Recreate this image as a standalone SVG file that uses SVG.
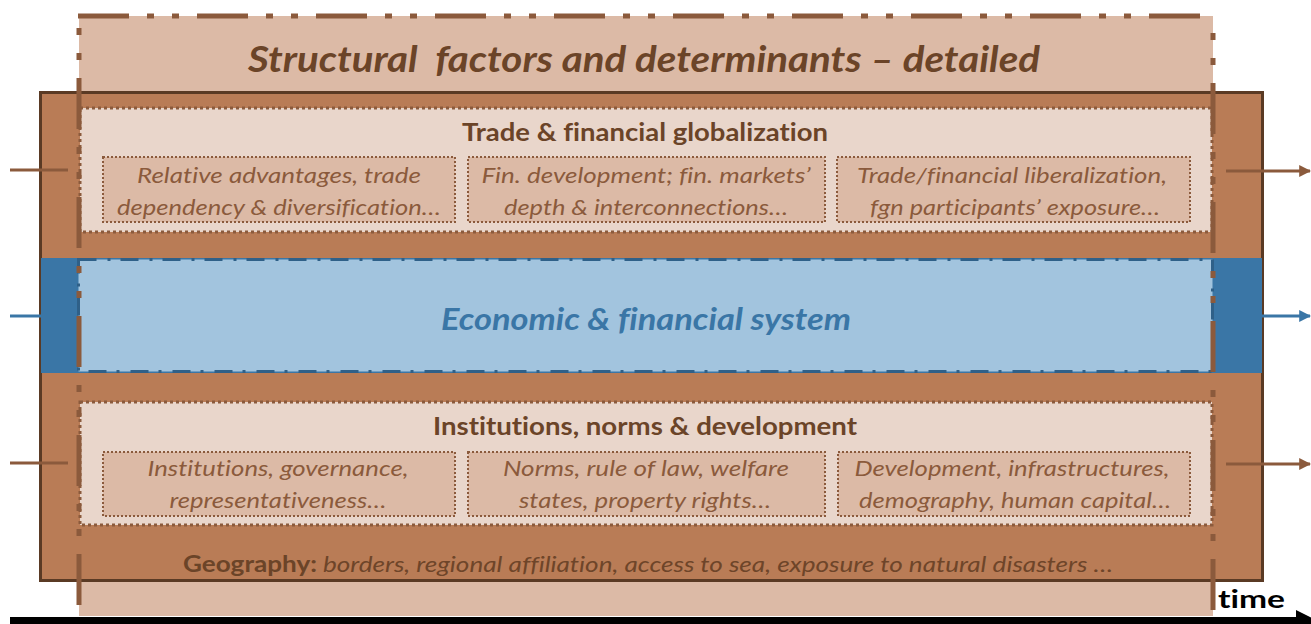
<svg xmlns="http://www.w3.org/2000/svg" width="1311" height="624" viewBox="0 0 1311 624">
<style>
  text { font-family: Lato, "Open Sans", "Liberation Sans", sans-serif; font-variant-ligatures: none; }
  .h { font-weight: bold; fill: #6B4428; text-anchor: middle; }
  .s { font-style: italic; fill: #8B5A3C; text-anchor: middle; font-size: 22px; }
  .panel { fill: #E9D6CB; stroke: #8B5A3C; stroke-width: 3; stroke-dasharray: 3 3; }
  .sub { fill: #DCBAA6; stroke: #8B5A3C; stroke-width: 2; stroke-dasharray: 2 2; }
  .dd { stroke: #8B5A3C; stroke-width: 5; fill: none; stroke-dasharray: 51 18 7 18 7 18; }
  .arr { stroke: #8B5A3C; stroke-width: 3; fill: none; }
</style>
<defs>
  <marker id="ab" viewBox="0 0 10 10" refX="9" refY="5" markerWidth="4" markerHeight="4" orient="auto" markerUnits="strokeWidth">
    <path d="M0,0 L10,5 L0,10 z" fill="#8B5A3C"/>
  </marker>
  <marker id="ablue" viewBox="0 0 10 10" refX="9" refY="5" markerWidth="4" markerHeight="4" orient="auto" markerUnits="strokeWidth">
    <path d="M0,0 L10,5 L0,10 z" fill="#3A76A6"/>
  </marker>
</defs>

<g id="header">
  <rect x="79" y="16" width="1134" height="600" fill="#DCBAA6"/>
</g>

<g id="main-box">
  <rect x="40.5" y="92.5" width="1222" height="488" fill="#B97C56" stroke="#5A3A24" stroke-width="3"/>
</g>

<g id="trade-panel">
  <rect class="panel" x="80" y="108" width="1132" height="124"/>
  <text class="h" x="645" y="141" font-size="24" textLength="366" lengthAdjust="spacingAndGlyphs">Trade &amp; financial globalization</text>
  <g id="trade-1">
    <rect class="sub" x="103" y="157" width="352" height="65"/>
    <text class="s" x="279" y="183" textLength="284" lengthAdjust="spacingAndGlyphs">Relative advantages, trade</text>
    <text class="s" x="279" y="215" textLength="324" lengthAdjust="spacingAndGlyphs">dependency &amp; diversification…</text>
  </g>
  <g id="trade-2">
    <rect class="sub" x="468" y="157" width="357" height="65"/>
    <text class="s" x="646" y="183" textLength="329" lengthAdjust="spacingAndGlyphs">Fin. development; fin. markets’</text>
    <text class="s" x="646" y="215" textLength="284" lengthAdjust="spacingAndGlyphs">depth &amp; interconnections…</text>
  </g>
  <g id="trade-3">
    <rect class="sub" x="837" y="157" width="353" height="65"/>
    <text class="s" x="1012" y="183" textLength="310" lengthAdjust="spacingAndGlyphs">Trade/financial liberalization,</text>
    <text class="s" x="1015" y="215" textLength="290" lengthAdjust="spacingAndGlyphs">fgn participants’ exposure…</text>
  </g>
</g>

<g id="economic-system">
  <rect x="41" y="258" width="1221" height="115" fill="#3A76A6"/>
  <rect x="78.5" y="259.5" width="1134" height="112" fill="#A2C4DE" stroke="#2F6088" stroke-width="3" stroke-dasharray="18 11 3 10"/>
  <text x="646" y="330" font-size="31" font-weight="bold" font-style="italic" fill="#3A76A6" text-anchor="middle" textLength="410" lengthAdjust="spacingAndGlyphs">Economic &amp; financial system</text>
</g>

<g id="institutions-panel">
  <rect class="panel" x="80" y="402" width="1132" height="123"/>
  <text class="h" x="645" y="435" font-size="24" textLength="424" lengthAdjust="spacingAndGlyphs">Institutions, norms &amp; development</text>
  <g id="inst-1">
    <rect class="sub" x="103" y="452" width="352" height="64"/>
    <text class="s" x="278" y="476" textLength="261" lengthAdjust="spacingAndGlyphs">Institutions, governance,</text>
    <text class="s" x="278" y="508" textLength="217" lengthAdjust="spacingAndGlyphs">representativeness…</text>
  </g>
  <g id="inst-2">
    <rect class="sub" x="468" y="452" width="357" height="64"/>
    <text class="s" x="646" y="476" textLength="286" lengthAdjust="spacingAndGlyphs">Norms, rule of law, welfare</text>
    <text class="s" x="645" y="508" textLength="252" lengthAdjust="spacingAndGlyphs">states, property rights…</text>
  </g>
  <g id="inst-3">
    <rect class="sub" x="838" y="452" width="352" height="64"/>
    <text class="s" x="1012" y="476" textLength="315" lengthAdjust="spacingAndGlyphs">Development, infrastructures,</text>
    <text class="s" x="1015" y="508" textLength="312" lengthAdjust="spacingAndGlyphs">demography, human capital…</text>
  </g>
</g>

<g id="geography">
  <text x="183" y="572" font-size="22" fill="#6B4428" textLength="930" lengthAdjust="spacingAndGlyphs"><tspan font-weight="bold">Geography:</tspan><tspan font-style="italic" fill="#6E4529"> borders, regional affiliation, access to sea, exposure to natural disasters …</tspan></text>
</g>

<g id="header-border">
  <line class="dd" x1="78" y1="16" x2="1213" y2="16"/>
  <line class="dd" x1="79" y1="16" x2="79" y2="614" stroke-dashoffset="57"/>
  <line class="dd" x1="1213" y1="16" x2="1213" y2="614" stroke-dashoffset="52"/>
  <text x="644" y="72" font-size="36" font-weight="bold" font-style="italic" fill="#6B4428" text-anchor="middle" textLength="792" lengthAdjust="spacingAndGlyphs" xml:space="preserve">Structural  factors and determinants – detailed</text>
</g>

<g id="connectors">
  <line class="arr" x1="10" y1="170" x2="68" y2="170"/>
  <line class="arr" x1="10" y1="463" x2="68" y2="463"/>
  <line x1="10" y1="316" x2="41" y2="316" stroke="#3A76A6" stroke-width="3"/>
  <line class="arr" x1="1226" y1="171" x2="1310" y2="171" marker-end="url(#ab)"/>
  <line class="arr" x1="1226" y1="464" x2="1310" y2="464" marker-end="url(#ab)"/>
  <line x1="1262" y1="316" x2="1310" y2="316" stroke="#3A76A6" stroke-width="3" marker-end="url(#ablue)"/>
</g>

<g id="time-axis">
  <rect x="10" y="617" width="1290" height="7" fill="#000"/>
  <polygon points="1296,610 1324,624 1296,638" fill="#000"/>
  <text x="1218" y="608" font-size="24" font-weight="bold" fill="#000" textLength="67" lengthAdjust="spacingAndGlyphs">time</text>
</g>
</svg>
